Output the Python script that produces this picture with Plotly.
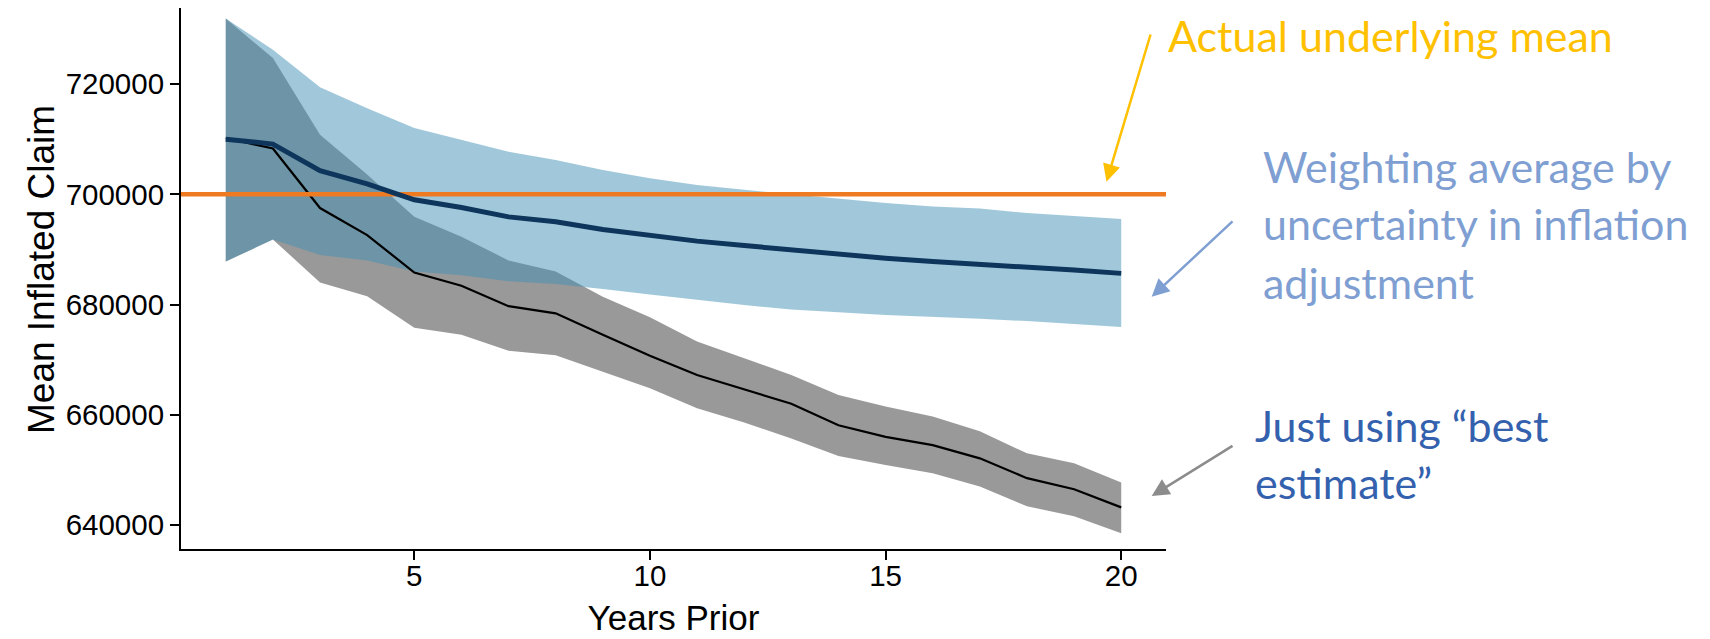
import plotly.graph_objects as go

years = list(range(1, 21))

weighted_mean = [710000, 709100, 704300, 701900, 699000, 697600, 695900, 695000, 693600, 692500,
                 691500, 690700, 689900, 689200, 688400, 687800, 687350, 686750, 686250, 685650]
weighted_upper = [731900, 726200, 719400, 715600, 712000, 709800, 707700, 706200, 704400, 702900,
                  701700, 700800, 700000, 699100, 698400, 697800, 697400, 696600, 696100, 695500]
weighted_lower = [687800, 691800, 689000, 688000, 686000, 685300, 684200, 683700, 682800, 681800,
                  680800, 679900, 679100, 678600, 678100, 677700, 677400, 677000, 676500, 675900]

best_mean = [710200, 708300, 697500, 692600, 685800, 683400, 679700, 678400, 674500, 670700,
             667200, 664600, 662000, 658100, 656000, 654500, 652100, 648500, 646500, 643200]
best_upper = [731900, 724700, 710800, 703600, 695900, 692300, 688000, 686000, 681400, 677700,
              673300, 670200, 667200, 663600, 661500, 659700, 657000, 653000, 651200, 647700]
best_lower = [687800, 691800, 684000, 681500, 675800, 674500, 671600, 670800, 667800, 664800,
              661200, 658600, 655700, 652500, 650900, 649400, 647000, 643400, 641600, 638500]

true_mean = 700000
y_ticks = [640000, 660000, 680000, 700000, 720000]
x_ticks = [5, 10, 15, 20]

fig = go.Figure()

# grey band (best estimate)
fig.add_trace(go.Scatter(x=years + years[::-1], y=best_upper + best_lower[::-1],
                         fill="toself", fillcolor="#999999", line=dict(width=0),
                         mode="lines", hoverinfo="skip", showlegend=False))
# blue band (weighted)
fig.add_trace(go.Scatter(x=years + years[::-1], y=weighted_upper + weighted_lower[::-1],
                         fill="toself", fillcolor="rgba(65,145,181,0.5)", line=dict(width=0),
                         mode="lines", hoverinfo="skip", showlegend=False))
# best estimate line
fig.add_trace(go.Scatter(x=years, y=best_mean, mode="lines",
                         line=dict(color="black", width=2.2), showlegend=False))
# actual mean line
fig.add_trace(go.Scatter(x=[0.05, 20.95], y=[true_mean, true_mean], mode="lines",
                         line=dict(color="#EE7A22", width=4.5), showlegend=False))
# weighted line
fig.add_trace(go.Scatter(x=years, y=weighted_mean, mode="lines",
                         line=dict(color="#0E355B", width=5), showlegend=False))

# the page body adds an 8px offset; figure coordinates are page coordinates minus OFF
OFF = 8
W, H = 1702, 631
L, R, T, B = 173, 544, 0, 90
pw, ph = W - L - R, H - T - B


def px(x):
    return (x - OFF - L) / pw


def py(y):
    return (H - B - (y - OFF)) / ph


ann_font = "Lato"
anns = []


def text(t, x, y, color):
    anns.append(dict(text=t, x=px(x), y=py(y), xref="paper", yref="paper",
                     xanchor="left", yanchor="middle", showarrow=False,
                     font=dict(family=ann_font, size=43, color=color)))


def arrow(tip, tail, color, width):
    anns.append(dict(text="", x=px(tip[0]), y=py(tip[1]), xref="paper", yref="paper",
                     ax=tail[0] - tip[0], ay=tail[1] - tip[1], axref="pixel", ayref="pixel",
                     showarrow=True, arrowhead=2, arrowsize=1.4, arrowwidth=width,
                     arrowcolor=color, standoff=0, startstandoff=0))


text("Actual underlying mean", 1166, 36, "#FFC000")
text("Weighting average by", 1261, 166, "#7F9FD3")
text("uncertainty in inflation", 1261, 224, "#7F9FD3")
text("adjustment", 1261, 282, "#7F9FD3")
text("Just using \u201cbest", 1253, 425, "#3461AE")
text("estimate\u201d", 1253, 482, "#3461AE")

arrow((1106.5, 181.7), (1151, 33), "#FFC000", 2.5)
arrow((1151.7, 296.7), (1234, 220), "#7F9FD3", 2.5)
arrow((1151.7, 496), (1234, 445), "#8C8C8C", 2.5)

# y axis title (centred as in the original, whose panel extends above the crop)
anns.append(dict(text="Mean Inflated Claim", x=px(41), y=py(270), xref="paper", yref="paper",
                 xanchor="center", yanchor="middle", showarrow=False, textangle=-90,
                 font=dict(family="Liberation Sans, Arial", size=37, color="black")))

fig.update_layout(
    width=W, height=H,
    margin=dict(l=L, r=R, t=T, b=B, autoexpand=False),
    paper_bgcolor="white", plot_bgcolor="white",
    annotations=anns,
    font=dict(family="Liberation Sans, Arial", color="black"),
    xaxis=dict(range=[0.05, 20.95], tickvals=x_ticks, ticktext=[str(v) for v in x_ticks],
               showgrid=False, zeroline=False, showline=True, linecolor="black", linewidth=2,
               ticks="outside", ticklen=9, tickwidth=2, tickcolor="black",
               tickfont=dict(size=29.5, color="black"), ticklabelstandoff=-9,
               title=dict(text="Years Prior", font=dict(size=35, color="black"), standoff=14)),
    yaxis=dict(range=[635650, 733790], tickvals=y_ticks, ticktext=[str(v) for v in y_ticks],
               showgrid=False, zeroline=False, showline=True, linecolor="black", linewidth=2,
               ticks="outside", ticklen=9, tickwidth=2, tickcolor="black",
               tickfont=dict(size=29.5, color="black")),
)

fig.write_html("out.html")
